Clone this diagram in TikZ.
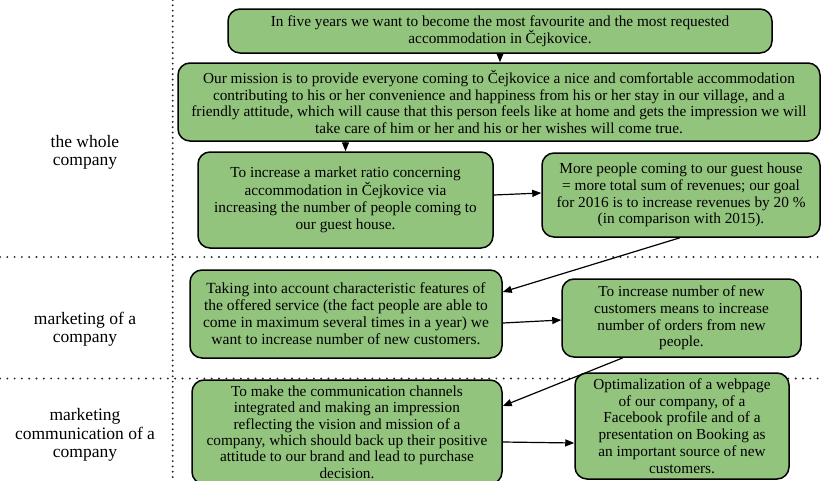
\documentclass[tikz,border=0pt]{standalone}
\usepackage{fontspec}
\setmainfont{Liberation Serif}
\usetikzlibrary{arrows.meta}
\definecolor{boxgreen}{RGB}{147,196,125}
\tikzset{
  goal/.style={draw=black, line width=1.5pt, fill=boxgreen, rounded corners=12pt, align=center, inner sep=0pt,
    font=\fontsize{15.3}{16.7}\selectfont},
  conn/.style={line width=1.2pt, -{Triangle[length=9pt,width=7pt]}},
  hsep/.style={line width=2.1pt, line cap=round, dash pattern=on 0pt off 7.3pt, black!85},
  vsep/.style={line width=2.1pt, line cap=round, dash pattern=on 0pt off 5.3pt, black!85},
  lvl/.style={align=center, font=\fontsize{17.5}{18.5}\selectfont}
}
\begin{document}
\begin{tikzpicture}[x=1pt,y=-1pt]
\useasboundingbox (0,0) rectangle (822,480);
% separators
\draw[vsep] (172.7,0) -- (172.7,480);
\draw[hsep] (0,257) -- (822,257);
\draw[hsep] (0,378.5) -- (822,378.5);
% level labels
\node[lvl] (l1) at (85,152.5) {the whole\\company};
\node[lvl] (l2) at (85,329) {marketing of a\\company};
\node[lvl] (l3) at (85,435) {marketing\\communication of a\\company};
% boxes
\node[goal, minimum width=544pt, minimum height=44pt] (b1) at (500,31)
 {In five years we want to become the most favourite and the most requested\\accommodation in Čejkovice.};
\node[goal, minimum width=642pt, minimum height=78pt] (b2) at (499,102)
 {Our mission is to provide everyone coming to Čejkovice a nice and comfortable accommodation\\
  contributing to his or her convenience and happiness from his or her stay in our village, and a\\
  friendly attitude, which will cause that this person feels like at home and gets the impression we will\\
  take care of him or her and his or her wishes will come true.};
\node[goal, minimum width=295pt, minimum height=96pt, font=\fontsize{15.3}{17.3}\selectfont] (b3) at (345.5,200)
 {To increase a market ratio concerning\\accommodation in Čejkovice via\\increasing the number of people coming to\\our guest house.};
\node[goal, minimum width=278pt, minimum height=84pt] (b4) at (681,195)
 {More people coming to our guest house\\= more total sum of revenues; our goal\\for 2016 is to increase revenues by 20~\%\\(in comparison with 2015).};
\node[goal, minimum width=312pt, minimum height=88pt, font=\fontsize{15.5}{17}\selectfont] (b5) at (346,314)
 {Taking into account characteristic features of\\the offered service (the fact people are able to\\come in maximum several times in a year) we\\want to increase number of new customers.};
\node[goal, minimum width=239pt, minimum height=78pt] (b6) at (681.5,318)
 {To increase number of new\\customers means to increase\\number of orders from new\\people.};
\node[goal, minimum width=310pt, minimum height=104pt, font=\fontsize{15.3}{16.4}\selectfont] (b7) at (347,432)
 {To make the communication channels\\integrated and making an impression\\reflecting the vision and mission of a\\company, which should back up their positive\\attitude to our brand and lead to purchase\\decision.};
\node[goal, minimum width=214pt, minimum height=106pt] (b8) at (682,426)
 {Optimalization of a webpage\\of our company, of a\\Facebook profile and of a\\presentation on Booking as\\an important source of new\\customers.};
% connectors
\draw[conn] (b1.south) -- (b1.south |- b2.north);
\draw[conn] (b2.south -| b3.north) -- (b3.north);
\draw[conn] ([yshift=5pt]b3.east) -- ([yshift=2pt]b4.west);
\draw[conn] ([xshift=-1pt]b4.south) -- ([yshift=22pt]b5.east);
\draw[conn] ([yshift=-9pt]b5.east) -- ([yshift=-2pt]b6.west);
\draw[conn] ([xshift=-58.5pt]b6.south) -- ([yshift=26pt]b7.east);
\draw[conn] ([yshift=-10pt]b7.east) -- ([yshift=-17pt]b8.west);
\end{tikzpicture}
\end{document}
